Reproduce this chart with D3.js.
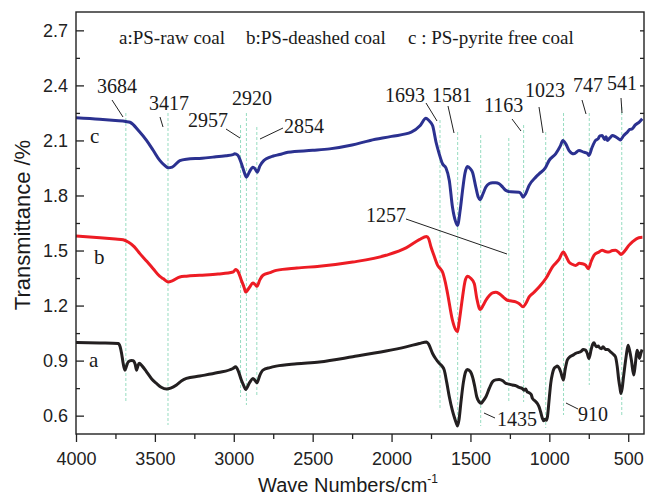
<!DOCTYPE html>
<html>
<head>
<meta charset="utf-8">
<script src="https://cdn.jsdelivr.net/npm/d3@7"></script>
<style>
  body { margin: 0; background: #fff; }
  text { fill: #1a1a1a; }
</style>
</head>
<body>
<div id="container"></div>
<script>
// curve c : PS-pyrite free coal
var waveC = [4000,3850,3750,3684,3658,3600,3553,3510,3469,3440,3416,3390,3342,3300,3200,3132,3050,3005,2994,2975,2950,2935,2920,2900,2879,2865,2851,2835,2810,2794,2750,2710,2657,2500,2393,2250,2135,2000,1875,1820,1782,1765,1740,1718,1698,1677,1655,1634,1614,1595,1582,1565,1550,1535,1519,1500,1487,1466,1450,1440,1420,1402,1380,1360,1340,1318,1295,1276,1244,1192,1180,1167,1150,1128,1086,1065,1023,1002,960,930,914,895,875,844,812,781,760,749,730,707,690,680,665,650,640,633,615,601,580,560,549,530,506,490,475,455,430,411]
var transC = [2.223,2.215,2.208,2.203,2.199,2.15,2.10,2.045,1.991,1.965,1.951,1.955,1.99,1.998,2.003,2.009,2.017,2.023,2.027,2.02,1.97,1.93,1.90,1.93,1.954,1.945,1.927,1.96,1.99,2.0,2.015,2.023,2.036,2.046,2.054,2.075,2.1,2.122,2.145,2.18,2.221,2.21,2.181,2.09,2.027,1.973,1.95,1.882,1.737,1.66,1.637,1.72,1.828,1.92,1.958,1.945,1.927,1.846,1.79,1.777,1.81,1.846,1.865,1.870,1.870,1.864,1.845,1.828,1.82,1.818,1.81,1.791,1.81,1.855,1.90,1.918,1.954,1.99,2.027,2.07,2.10,2.08,2.045,2.027,2.045,2.036,2.03,2.018,2.06,2.10,2.11,2.125,2.127,2.105,2.12,2.10,2.115,2.127,2.12,2.108,2.103,2.125,2.145,2.16,2.163,2.185,2.2,2.218]

// curve b : PS-deashed coal
var waveB = [4000,3848,3750,3701,3669,3630,3595,3550,3511,3470,3448,3416,3390,3342,3300,3216,3100,3005,2988,2970,2952,2935,2925,2900,2879,2865,2853,2835,2815,2770,2731,2600,2457,2246,2035,1908,1824,1778,1765,1750,1730,1708,1690,1677,1660,1645,1614,1595,1582,1570,1550,1535,1519,1500,1476,1460,1438,1420,1402,1380,1360,1340,1318,1290,1266,1240,1213,1190,1167,1150,1128,1100,1065,1020,981,940,911,895,875,855,833,810,791,770,753,735,717,690,665,645,623,600,581,560,546,520,496,470,433,410]
var transB = [1.579,1.570,1.563,1.559,1.546,1.52,1.483,1.44,1.401,1.36,1.347,1.329,1.335,1.356,1.36,1.365,1.372,1.383,1.396,1.38,1.338,1.30,1.274,1.30,1.323,1.315,1.305,1.34,1.365,1.38,1.392,1.405,1.414,1.437,1.474,1.514,1.559,1.577,1.565,1.519,1.47,1.419,1.40,1.383,1.33,1.266,1.120,1.07,1.057,1.12,1.247,1.33,1.36,1.35,1.32,1.24,1.178,1.20,1.229,1.255,1.269,1.272,1.265,1.245,1.229,1.225,1.22,1.21,1.193,1.21,1.247,1.27,1.301,1.35,1.41,1.45,1.492,1.47,1.437,1.425,1.419,1.43,1.428,1.42,1.401,1.44,1.474,1.49,1.501,1.495,1.492,1.50,1.501,1.49,1.479,1.50,1.528,1.55,1.570,1.572]

// curve a : PS-raw coal
var waveA = [4000,3850,3732,3720,3711,3700,3690,3680,3669,3650,3637,3625,3616,3608,3600,3580,3553,3520,3490,3460,3426,3400,3363,3330,3300,3216,3100,3005,2988,2970,2952,2935,2925,2900,2879,2865,2853,2835,2815,2770,2731,2600,2457,2246,2035,1908,1824,1778,1765,1740,1720,1698,1680,1666,1650,1634,1615,1603,1590,1582,1572,1561,1545,1530,1519,1500,1487,1473,1460,1445,1434,1420,1402,1380,1360,1340,1318,1295,1276,1255,1234,1210,1192,1175,1160,1150,1140,1128,1115,1107,1090,1075,1065,1055,1044,1035,1027,1018,1012,1000,991,980,970,960,949,938,928,911,900,886,870,850,833,815,800,785,770,760,749,735,725,717,710,700,690,686,670,660,644,630,612,595,581,570,560,552,546,538,530,522,512,501,490,480,465,455,444,436,429,420,412]
var transA = [0.999,0.996,0.993,0.975,0.939,0.88,0.848,0.87,0.893,0.90,0.899,0.88,0.848,0.87,0.885,0.87,0.839,0.80,0.776,0.755,0.745,0.75,0.767,0.79,0.803,0.816,0.835,0.857,0.866,0.84,0.794,0.76,0.743,0.78,0.803,0.792,0.779,0.82,0.848,0.862,0.870,0.883,0.893,0.921,0.952,0.975,0.993,1.002,0.99,0.939,0.91,0.885,0.87,0.848,0.78,0.703,0.63,0.594,0.56,0.544,0.58,0.667,0.78,0.84,0.852,0.84,0.812,0.76,0.703,0.675,0.667,0.68,0.703,0.75,0.785,0.795,0.797,0.79,0.776,0.772,0.767,0.762,0.754,0.75,0.739,0.745,0.73,0.725,0.715,0.694,0.68,0.665,0.648,0.62,0.585,0.572,0.58,0.575,0.594,0.70,0.776,0.83,0.857,0.865,0.870,0.86,0.839,0.794,0.85,0.903,0.92,0.93,0.939,0.945,0.95,0.96,0.957,0.94,0.912,0.96,0.99,0.997,0.985,0.975,0.98,0.975,0.965,0.975,0.961,0.96,0.948,0.935,0.921,0.87,0.794,0.75,0.721,0.75,0.81,0.866,0.93,0.984,0.95,0.903,0.821,0.88,0.957,0.94,0.912,0.94,0.961]

// axis ticks
var xMajor = [4000,3500,3000,2500,2000,1500,1000,500]
var xMinor = [3750,3250,2750,2250,1750,1250,750]
var yMajor = [0.6,0.9,1.2,1.5,1.8,2.1,2.4,2.7]
var yMinor = [0.75,1.05,1.35,1.65,1.95,2.25,2.55]

// marked peaks (dashed guide lines) and their labels
var peaks = [3684,3417,2957,2920,2854,1693,1581,1435,1257,1163,1023,910,747,541]
var peakLabels = ["3684","3417","2957","2920","2854","1693","1581","1435","1257","1163","1023","910","747","541"]
var curveNames = ["a","b","c"]
var legendItems = ["a:PS-raw coal","b:PS-deashed coal","c : PS-pyrite free coal"]

var W = 646, H = 496
var margin = { top: 12, right: 2, bottom: 62, left: 76 }
var width = W - margin.left - margin.right,
    height = H - margin.top - margin.bottom

var svg = d3.select("#container")
    .append("svg")
      .attr("width", W)
      .attr("height", H)

var g = svg.append("g")
    .attr("transform", "translate(" + margin.left + "," + margin.top + ")")

var x = d3.scaleLinear().domain([4000, 400]).range([0, width])
var y = d3.scaleLinear().domain([0.5, 2.8]).range([height, 0])

svg.append("defs").append("clipPath").attr("id", "clip")
  .append("rect").attr("width", width).attr("height", height)

// dashed guide lines: [top pixel, bottom pixel]
var guideTop = [113,113,125,113,127,120,132,135,138,125,132,113,113,107]
var guideBot = [402,425,397,405,395,408,427,426,402,402,428,415,385,417]
g.selectAll(".guide")
  .data(peaks)
  .enter().append("line")
    .attr("class", "guide")
    .attr("x1", function(d){ return x(d) })
    .attr("x2", function(d){ return x(d) })
    .attr("y1", function(d,i){ return guideTop[i] - margin.top })
    .attr("y2", function(d,i){ return guideBot[i] - margin.top })
    .style("stroke", "#96dcc0")
    .style("stroke-width", 1)
    .style("stroke-dasharray", "3,2")

// the three spectra
var line = d3.line()
  .x(function(d){ return x(d[0]) })
  .y(function(d){ return y(d[1]) })
  .curve(d3.curveMonotoneX)

var series = [
  { w: waveA, t: transA, color: "#231f20" },
  { w: waveB, t: transB, color: "#ed1c24" },
  { w: waveC, t: transC, color: "#2b3190" }
]
series.forEach(function(s){
  g.append("path")
    .datum(d3.zip(s.w, s.t))
    .attr("clip-path", "url(#clip)")
    .attr("d", line)
    .style("fill", "none")
    .style("stroke", s.color)
    .style("stroke-width", 3)
    .style("stroke-linejoin", "round")
})

// axes, ticks inside on y, outside on x
var tickFont = "'Liberation Sans', Arial, sans-serif"
var yAxis = g.append("g")
  .call(d3.axisLeft(y).tickValues(yMajor).tickSize(-8).tickPadding(8).tickFormat(d3.format(".1f")))
var yAxisMinor = g.append("g")
  .call(d3.axisLeft(y).tickValues(yMinor).tickSize(-4).tickFormat(""))
var yAxisRight = g.append("g")
  .attr("transform", "translate(" + width + ",0)")
  .call(d3.axisRight(y).tickValues(yMajor.concat(yMinor)).tickSize(-4).tickFormat(""))
var xAxis = g.append("g")
  .attr("transform", "translate(0," + height + ")")
  .call(d3.axisBottom(x).tickValues(xMajor).tickSize(8).tickPadding(10).tickFormat(d3.format("d")))
var xAxisMinor = g.append("g")
  .attr("transform", "translate(0," + height + ")")
  .call(d3.axisBottom(x).tickValues(xMinor).tickSize(5).tickFormat(""))

;[yAxis, yAxisMinor, yAxisRight, xAxis, xAxisMinor].forEach(function(a){
  a.select(".domain").remove()
  a.selectAll("line").style("stroke", "#222").style("stroke-width", 1.3)
  a.selectAll("text").style("font-family", tickFont).style("font-size", "18px").style("fill", "#222")
})

g.append("rect")
  .attr("width", width)
  .attr("height", height)
  .style("fill", "none")
  .style("stroke", "#222")
  .style("stroke-width", 1.4)

// axis titles
svg.append("text")
  .attr("transform", "translate(30,225) rotate(-90)")
  .attr("text-anchor", "middle")
  .style("font-family", tickFont)
  .style("font-size", "22px")
  .text("Transmittance /%")

var xt = svg.append("text")
  .attr("x", 348)
  .attr("y", 492)
  .attr("text-anchor", "middle")
  .style("font-family", tickFont)
  .style("font-size", "20px")
xt.append("tspan").text("Wave Numbers/cm")
xt.append("tspan").attr("dy", -9).style("font-size", "12px").text("-1")

// legend line at top and curve letters
var serif = "'Liberation Serif', 'Times New Roman', serif"
var legendX = [119, 246, 408]
svg.selectAll(".legend")
  .data(legendItems)
  .enter().append("text")
    .attr("x", function(d,i){ return legendX[i] })
    .attr("y", 44)
    .style("font-family", serif)
    .style("font-size", "19px")
    .text(function(d){ return d })

var nameX = [89, 94, 90], nameY = [367, 264, 143]
svg.selectAll(".cname")
  .data(curveNames)
  .enter().append("text")
    .attr("x", function(d,i){ return nameX[i] })
    .attr("y", function(d,i){ return nameY[i] })
    .style("font-family", serif)
    .style("font-size", "21px")
    .text(function(d){ return d })

// peak labels with leader lines
var labX = [97,149,188,232,284,385,432,497,366,484,525,573,607]
var labY = [93,110,127,105,133,102,102,426,222,112,97,92,90]
var labIdx = [0,1,2,3,4,5,6,7,8,9,10,12,13]
var leaders = [
  [112,100,123,117],[160,117,163,127],[226,129,240,138],[283,128,260,139],
  [426,103,437,121],[448,106,454,133],[484,413,495,418],[406,219,507,254],
  [512,119,521,131],[539,107,543,133],[566,403,578,409],[582,100,586,114],[621,98,622,113]
]
svg.selectAll(".plabel")
  .data(labIdx)
  .enter().append("text")
    .attr("x", function(d,i){ return labX[i] })
    .attr("y", function(d,i){ return labY[i] })
    .style("font-family", serif)
    .style("font-size", "20px")
    .text(function(d){ return peakLabels[d] })
svg.append("text")
  .attr("x", 578).attr("y", 421)
  .style("font-family", serif)
  .style("font-size", "20px")
  .text(peakLabels[11])
svg.selectAll(".leader")
  .data(leaders)
  .enter().append("line")
    .attr("x1", function(d){ return d[0] })
    .attr("y1", function(d){ return d[1] })
    .attr("x2", function(d){ return d[2] })
    .attr("y2", function(d){ return d[3] })
    .style("stroke", "#222")
    .style("stroke-width", 1)
</script>
</body>
</html>
